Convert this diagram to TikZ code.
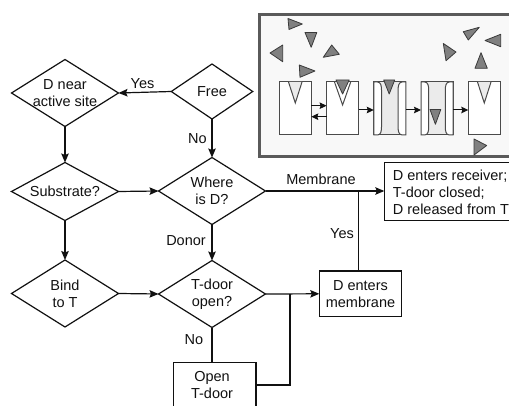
\documentclass[tikz,border=0pt]{standalone}
\usepackage{fontspec}
\setmainfont{Liberation Sans}
\usetikzlibrary{shapes.geometric,arrows.meta}
\definecolor{frame}{HTML}{5A5A5A}
\definecolor{panel}{HTML}{F8F8F8}
\definecolor{cellline}{HTML}{4A4A4A}
\definecolor{lightfill}{HTML}{EBEBEB}
\definecolor{trifill}{HTML}{808080}
\definecolor{triline}{HTML}{3A3A3A}
\definecolor{ink}{HTML}{111111}
\begin{document}
\begin{tikzpicture}[x=1pt,y=-1pt,
  every node/.style={font=\fontsize{14.5}{17}\selectfont, text=ink},
  dia/.style={diamond, draw=ink, line width=1.2pt, inner sep=0pt, outer sep=0pt},
  box/.style={rectangle, draw=ink, line width=1.2pt, inner sep=0pt, outer sep=0pt},
  txt/.style={align=center, inner sep=0pt},
  lbl/.style={inner sep=0pt},
  conn/.style={draw=ink, line width=1.2pt, -{Stealth[length=9pt,width=7.5pt,inset=1.5pt]}},
  link/.style={draw=ink, line width=1.2pt},
  cell/.style={draw=cellline, line width=1pt, fill=white},
  carrow/.style={draw=ink, line width=1pt, -{Stealth[length=7pt,width=6.5pt,inset=1pt]}},
  tri/.style={draw=triline, fill=trifill, line width=0.8pt, line join=round},
]
\useasboundingbox (0,0) rectangle (509,406);
\clip (0,0) rectangle (509,406);
\fill[white] (0,0) rectangle (509,406);

% ---------- inset panel ----------
\draw[draw=frame, fill=panel, line width=3pt] (259,15) rectangle (540,156.5);

% cell 1
\draw[cell] (279.3,82) rectangle (311.3,135);
\fill[lightfill] (288.5,82) -- (295.3,103) -- (302,82) -- cycle;
\draw[draw=cellline, line width=1pt] (288.5,82) -- (295.3,103) -- (302,82);
% cell 2
\draw[cell] (326.6,82) rectangle (358.6,135);
\draw[draw=cellline, line width=1pt] (334.5,82) -- (342.6,105) -- (350.7,82);
\draw[tri] (336,80) -- (349.2,80) -- (342.6,94) -- cycle;
% cell 3
\draw[draw=cellline, fill=lightfill, line width=1pt] (373.8,82) rectangle (405.8,135);
\draw[cell] (373.8,82) -- (377.5,82) to[out=0,in=90] (381.5,90) -- (381.5,127) to[out=-90,in=0] (377.5,135) -- (373.8,135) -- cycle;
\draw[cell] (405.8,82) -- (402.1,82) to[out=180,in=90] (398.1,90) -- (398.1,127) to[out=-90,in=180] (402.1,135) -- (405.8,135) -- cycle;
\draw[tri] (383.7,80) -- (394.7,80) -- (389.2,94) -- cycle;
% cell 4
\draw[draw=cellline, fill=lightfill, line width=1pt] (421,82) rectangle (453,135);
\draw[cell] (421,82) -- (424.7,82) to[out=0,in=90] (428.7,90) -- (428.7,127) to[out=-90,in=0] (424.7,135) -- (421,135) -- cycle;
\draw[cell] (453,82) -- (449.3,82) to[out=180,in=90] (445.3,90) -- (445.3,127) to[out=-90,in=180] (449.3,135) -- (453,135) -- cycle;
\draw[tri] (430,109.5) -- (440.8,109.5) -- (435.4,124.3) -- cycle;
% cell 5
\draw[cell] (468.3,82) rectangle (500.3,135);
\fill[lightfill] (477.5,82) -- (484.3,103) -- (491,82) -- cycle;
\draw[draw=cellline, line width=1pt] (477.5,82) -- (484.3,103) -- (491,82);

% arrows between cells
\draw[carrow] (311.3,105.7) -- (326.6,105.7);
\draw[carrow] (326.6,116.7) -- (311.3,116.7);
\draw[carrow] (358.6,110) -- (373.8,110);
\draw[carrow] (405.8,110) -- (421,110);
\draw[carrow] (453,110) -- (468.3,110);

% free triangles
\draw[tri] (288,18.5) -- (302.3,24) -- (289,29.5) -- cycle;
\draw[tri] (305,32.5) -- (316.8,32.5) -- (311.2,47.3) -- cycle;
\draw[tri] (270,53) -- (282.7,45) -- (282.7,61.7) -- cycle;
\draw[tri] (323.3,57.3) -- (339.3,54.3) -- (331.7,45) -- cycle;
\draw[tri] (299.3,65) -- (315,71) -- (300,77.3) -- cycle;
\draw[tri] (443.3,43.5) -- (456,52) -- (446,60.7) -- cycle;
\draw[tri] (463.3,31.7) -- (479.3,27.3) -- (468.3,40) -- cycle;
\draw[tri] (485,40.5) -- (500.7,34.3) -- (500.7,46.7) -- cycle;
\draw[tri] (481,52.7) -- (487.3,68.3) -- (475,68.3) -- cycle;
\draw[tri] (474,139) -- (486.7,145.5) -- (474,155) -- cycle;

% ---------- flowchart ----------
\node[dia, minimum width=107pt, minimum height=67pt] (dnear) at (65,93) {};
\node[txt] (dneart) at (65,93) {D near\\active site};
\node[dia, minimum width=81.5pt, minimum height=55pt] (free) at (212,91.5) {};
\node[txt] (freet) at (212,91.5) {Free};
\node[dia, minimum width=107pt, minimum height=58pt] (subs) at (65,191.5) {};
\node[txt] (subst) at (65,191.5) {Substrate?};
\node[dia, minimum width=107pt, minimum height=67pt] (where) at (212,191) {};
\node[txt] (wheret) at (212,191) {Where\\is D?};
\node[dia, minimum width=107pt, minimum height=67pt] (bind) at (65,293.5) {};
\node[txt] (bindt) at (65,293.5) {Bind\\to T};
\node[dia, minimum width=107pt, minimum height=67pt] (tdoor) at (212,294) {};
\node[txt] (tdoort) at (212,294) {T-door\\open?};

\node[box, minimum width=82.7pt, minimum height=45.5pt] (opendoor) at (214.6,385) {};
\node[txt] (opendoort) at (212,385) {Open\\T-door};
\node[box, minimum width=82.4pt, minimum height=45.7pt] (memb) at (360.5,293.8) {};
\node[txt] (membt) at (360.5,293.8) {D enters\\membrane};
\node[box, minimum width=150pt, minimum height=58pt] (recv) at (459.3,191.7) {};
\node[align=left, inner sep=0pt, anchor=west] (recvt) at (392.7,192.5)
  {D enters receiver;\\T-door closed;\\D released from T};

\coordinate (j1) at (290,294);
\coordinate (j2) at (358.3,191);

\draw[conn] (free.west) -- (dnear.east);
\draw[conn] (free.south) -- (where.north);
\draw[conn] (dnear.south) -- (subs.north);
\draw[conn] (subs.east) -- (where.west);
\draw[conn] (subs.south) -- (bind.north);
\draw[conn] (where.south) -- (tdoor.north);
\draw[conn] (bind.east) -- (tdoor.west);
\draw[link] (tdoor.south) -- (tdoor.south |- opendoor.north);
\draw[conn] (tdoor.east) -- (memb.west);
\draw[link] (opendoor.east) -| (j1);
\draw[conn] (where.east) -- (where.east -| recv.west);
\draw[link] (memb.north -| j2) -- (j2);

\node[lbl] (lyes1) at (142.5,84) {Yes};
\node[lbl] (lno1) at (197.5,139) {No};
\node[lbl] (ldonor) at (186,240.5) {Donor};
\node[lbl] (lno2) at (194,340) {No};
\node[lbl] (lmemb) at (321,179) {Membrane};
\node[lbl] (lyes2) at (342,234) {Yes};
\end{tikzpicture}
\end{document}
